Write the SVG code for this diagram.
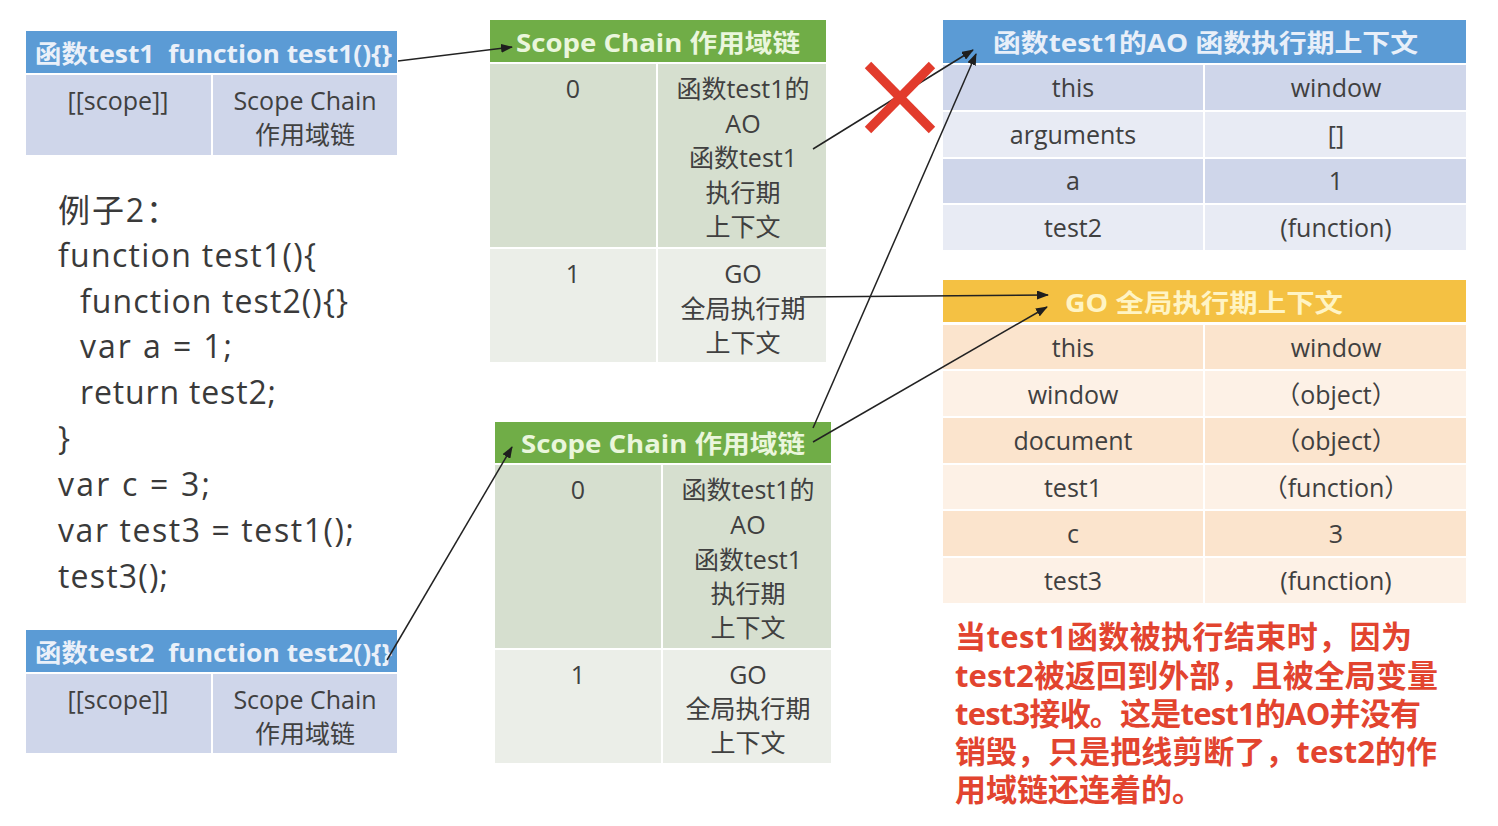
<svg xmlns="http://www.w3.org/2000/svg" width="1498" height="826" viewBox="0 0 1498 826">
<defs>
<marker id="ah" markerWidth="12" markerHeight="9" refX="11" refY="4.5" orient="auto" markerUnits="userSpaceOnUse"><path d="M0,0 L12,4.5 L0,9 z" fill="#1e1e1e"/></marker>
<style>
.t{font-family:"Open Sans","Noto Sans CJK SC",sans-serif;fill:#404040;font-size:25px;text-anchor:middle}
.c{font-family:"Open Sans","Noto Sans CJK SC",sans-serif;fill:#3a3a3a;font-size:32px}
.hb{font-family:"Open Sans","Noto Sans CJK SC",sans-serif;font-weight:bold;font-size:25px;white-space:pre}
.red{font-family:"Open Sans","Noto Sans CJK SC",sans-serif;font-weight:bold;font-size:31px;fill:#e2442f}
.blueH{fill:#5b9bd5}
.blueD{fill:#cfd6ea}
.blueL{fill:#e8ebf4}
.greenH{fill:#70ad47}
.greenD{fill:#d6dfcf}
.greenL{fill:#ebeee8}
.goldH{fill:#f4c143}
.peachD{fill:#fbe4cd}
.peachL{fill:#fdf1e6}
.ln{stroke:#222;stroke-width:1.5;fill:none;marker-end:url(#ah)}
</style>
</defs>
<rect width="1498" height="826" fill="#ffffff"/>

<g id="test1-box">
<rect class="blueH" x="26" y="31" width="371" height="42"/>
<rect class="blueD" x="26" y="75" width="185" height="80"/>
<rect class="blueD" x="213" y="75" width="184" height="80"/>
<text class="hb" x="35" y="63" fill="#eaf0f9" textLength="357" lengthAdjust="spacingAndGlyphs">函数test1  function test1(){}</text>
<text class="t" x="118" y="110">[[scope]]</text>
<text class="t" x="305" y="110">Scope Chain</text>
<text class="t" x="305" y="144">作用域链</text>
</g>

<g id="code">
<text class="c" x="58" y="222" textLength="120">例子2：</text>
<text class="c" x="58" y="267" textLength="258">function test1(){</text>
<text class="c" x="80" y="313" textLength="268">function test2(){}</text>
<text class="c" x="80" y="358" textLength="152">var a = 1;</text>
<text class="c" x="80" y="404" textLength="196">return test2;</text>
<text class="c" x="58" y="450">}</text>
<text class="c" x="58" y="496" textLength="152">var c = 3;</text>
<text class="c" x="58" y="542" textLength="296">var test3 = test1();</text>
<text class="c" x="58" y="588" textLength="110">test3();</text>
</g>

<g id="test2-box">
<rect class="blueH" x="26" y="630" width="371" height="42"/>
<rect class="blueD" x="26" y="674" width="185" height="79"/>
<rect class="blueD" x="213" y="674" width="184" height="79"/>
<text class="hb" x="35" y="662" fill="#eaf0f9" textLength="357" lengthAdjust="spacingAndGlyphs">函数test2  function test2(){}</text>
<text class="t" x="118" y="709">[[scope]]</text>
<text class="t" x="305" y="709">Scope Chain</text>
<text class="t" x="305" y="743">作用域链</text>
</g>

<g id="scope-chain-1">
<rect class="greenH" x="490" y="20" width="336" height="42"/>
<rect class="greenD" x="490" y="64" width="166" height="183"/>
<rect class="greenD" x="658" y="64" width="168" height="183"/>
<rect class="greenL" x="490" y="249" width="166" height="113"/>
<rect class="greenL" x="658" y="249" width="168" height="113"/>
<text class="hb" x="516" y="52" fill="#eaf6dc" textLength="284" lengthAdjust="spacingAndGlyphs">Scope Chain 作用域链</text>
<text class="t" x="573" y="98">0</text>
<text class="t" x="743" y="98">函数test1的</text>
<text class="t" x="743" y="133">AO</text>
<text class="t" x="743" y="167">函数test1</text>
<text class="t" x="743" y="202">执行期</text>
<text class="t" x="743" y="236">上下文</text>
<text class="t" x="573" y="283">1</text>
<text class="t" x="743" y="283">GO</text>
<text class="t" x="743" y="318">全局执行期</text>
<text class="t" x="743" y="352">上下文</text>
</g>

<g id="scope-chain-2">
<rect class="greenH" x="495" y="422" width="336" height="41"/>
<rect class="greenD" x="495" y="465" width="166" height="183"/>
<rect class="greenD" x="663" y="465" width="168" height="183"/>
<rect class="greenL" x="495" y="650" width="166" height="113"/>
<rect class="greenL" x="663" y="650" width="168" height="113"/>
<text class="hb" x="521" y="453" fill="#eaf6dc" textLength="284" lengthAdjust="spacingAndGlyphs">Scope Chain 作用域链</text>
<text class="t" x="578" y="499">0</text>
<text class="t" x="748" y="499">函数test1的</text>
<text class="t" x="748" y="534">AO</text>
<text class="t" x="748" y="569">函数test1</text>
<text class="t" x="748" y="603">执行期</text>
<text class="t" x="748" y="637">上下文</text>
<text class="t" x="578" y="684">1</text>
<text class="t" x="748" y="684">GO</text>
<text class="t" x="748" y="718">全局执行期</text>
<text class="t" x="748" y="752">上下文</text>
</g>

<g id="ao-table">
<rect class="blueH" x="943" y="20" width="523" height="43"/>
<rect class="blueD" x="943" y="65" width="260" height="45"/>
<rect class="blueD" x="1205" y="65" width="261" height="45"/>
<rect class="blueL" x="943" y="112" width="260" height="45"/>
<rect class="blueL" x="1205" y="112" width="261" height="45"/>
<rect class="blueD" x="943" y="159" width="260" height="44"/>
<rect class="blueD" x="1205" y="159" width="261" height="44"/>
<rect class="blueL" x="943" y="205" width="260" height="45"/>
<rect class="blueL" x="1205" y="205" width="261" height="45"/>
<text class="hb" x="993" y="52" fill="#e8eff9" textLength="425" lengthAdjust="spacingAndGlyphs">函数test1的AO 函数执行期上下文</text>
<text class="t" x="1073" y="97">this</text>
<text class="t" x="1336" y="97">window</text>
<text class="t" x="1073" y="144">arguments</text>
<text class="t" x="1336" y="144">[]</text>
<text class="t" x="1073" y="190">a</text>
<text class="t" x="1336" y="190">1</text>
<text class="t" x="1073" y="237">test2</text>
<text class="t" x="1336" y="237">(function)</text>
</g>

<g id="go-table">
<rect class="goldH" x="943" y="280" width="523" height="42"/>
<rect class="peachD" x="943" y="325" width="260" height="44"/>
<rect class="peachD" x="1205" y="325" width="261" height="44"/>
<rect class="peachL" x="943" y="371" width="260" height="45"/>
<rect class="peachL" x="1205" y="371" width="261" height="45"/>
<rect class="peachD" x="943" y="418" width="260" height="45"/>
<rect class="peachD" x="1205" y="418" width="261" height="45"/>
<rect class="peachL" x="943" y="465" width="260" height="44"/>
<rect class="peachL" x="1205" y="465" width="261" height="44"/>
<rect class="peachD" x="943" y="511" width="260" height="45"/>
<rect class="peachD" x="1205" y="511" width="261" height="45"/>
<rect class="peachL" x="943" y="558" width="260" height="45"/>
<rect class="peachL" x="1205" y="558" width="261" height="45"/>
<text class="hb" x="1065" y="312" fill="#fff4c4" textLength="278" lengthAdjust="spacingAndGlyphs">GO 全局执行期上下文</text>
<text class="t" x="1073" y="357">this</text>
<text class="t" x="1336" y="357">window</text>
<text class="t" x="1073" y="404">window</text>
<text class="t" x="1336" y="404">（object）</text>
<text class="t" x="1073" y="450">document</text>
<text class="t" x="1336" y="450">（object）</text>
<text class="t" x="1073" y="497">test1</text>
<text class="t" x="1336" y="497">（function）</text>
<text class="t" x="1073" y="543">c</text>
<text class="t" x="1336" y="543">3</text>
<text class="t" x="1073" y="590">test3</text>
<text class="t" x="1336" y="590">(function)</text>
</g>

<g id="note">
<text class="red" x="955" y="648" textLength="457">当test1函数被执行结束时，因为</text>
<text class="red" x="955" y="687" textLength="483">test2被返回到外部，且被全局变量</text>
<text class="red" x="955" y="725" textLength="466">test3接收。这是test1的AO并没有</text>
<text class="red" x="955" y="763" textLength="482">销毁，只是把线剪断了，test2的作</text>
<text class="red" x="955" y="801">用域链还连着的。</text>
</g>

<g id="connectors">
<path class="ln" d="M398,61 L512,47"/>
<path class="ln" d="M813,149 L973,50"/>
<path class="ln" d="M813,428 L976,54"/>
<path class="ln" d="M800,297 L1048,295"/>
<path class="ln" d="M813,442 L1047,307"/>
<path class="ln" d="M387,660 L512,447"/>
</g>

<g id="cut-mark" stroke="#e23b2c" stroke-width="9">
<line x1="868" y1="65" x2="932" y2="130"/>
<line x1="932" y1="65" x2="868" y2="130"/>
</g>
</svg>
